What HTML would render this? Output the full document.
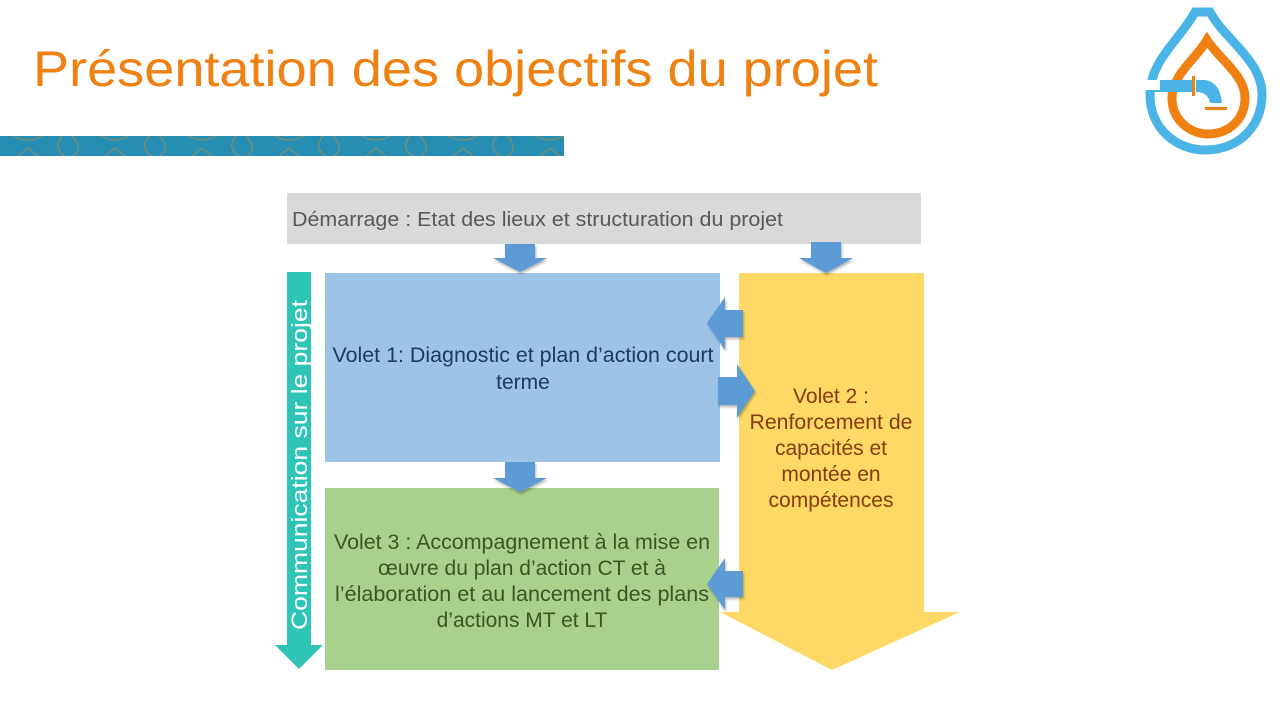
<!DOCTYPE html>
<html><head><meta charset="utf-8"><style>
html,body{margin:0;padding:0;background:#fff;}
svg{display:block;}
text{font-family:"Liberation Sans",sans-serif;}
</style></head><body>
<svg width="1280" height="720" viewBox="0 0 1280 720" xmlns="http://www.w3.org/2000/svg">
<defs>
<pattern id="pat" x="0" y="136" width="87" height="20" patternUnits="userSpaceOnUse">
<rect width="87" height="20" fill="#278EB3"/>
<path d="M14 0 Q28 8 42 0" fill="none" stroke="#9a8a5a" stroke-width="1"/>
<path d="M18 20 L28 12 L38 20" fill="none" stroke="#9a8a5a" stroke-width="1"/>
<path d="M65 20 Q52 12 62 0 M73 20 Q84 12 72 0" fill="none" stroke="#9a8a5a" stroke-width="1"/>
</pattern>
<filter id="sh" x="-20%" y="-20%" width="140%" height="140%"><feDropShadow dx="1" dy="2" stdDeviation="1.2" flood-opacity="0.3"/></filter>
</defs>
<text x="33" y="86" font-size="50" fill="#EE8112" textLength="845" lengthAdjust="spacingAndGlyphs">Présentation des objectifs du projet</text>
<rect x="0" y="136" width="564" height="20" fill="url(#pat)"/>
<g fill="none">
<path d="M1195 12 C1180 40 1150 60 1150 95 C1150 128 1176 150 1205 150 C1240 150 1262 125 1262 95 C1262 60 1225 40 1210 12 Z" stroke="#4BB4E6" stroke-width="9" fill="none"/>
<path d="M1207 40 C1195 60 1172 75 1172 98 C1172 120 1190 134 1208 134 C1228 134 1245 120 1245 98 C1245 75 1220 60 1207 40 Z" stroke="#EE8112" stroke-width="9"/>
<rect x="1148" y="80" width="45" height="12" fill="#4BB4E6"/>
<path d="M1196 80 L1205 80 Q1220 82 1222 103 L1210 103 Q1208 92 1196 92 Z" fill="#4BB4E6"/>
<rect x="1192" y="76" width="3" height="20" fill="#EE8112"/>
<rect x="1205" y="107" width="22" height="3" fill="#EE8112"/>
<rect x="1146" y="80" width="14" height="10" fill="#fff"/>
</g>
<rect x="287" y="193" width="634" height="51" fill="#D9D9D9"/>
<text x="292" y="226" font-size="20" fill="#595959" textLength="491" lengthAdjust="spacingAndGlyphs">Démarrage : Etat des lieux et structuration du projet</text>
<path d="M739 273 H924 V612 H960 L832 670 L720 612 H739 Z" fill="#FFD966"/>
<rect x="325" y="273" width="395" height="189" fill="#9DC3E6"/>
<rect x="325" y="488" width="394" height="182" fill="#A9D18E"/>
<path d="M287 272 H311 V645 H323 L299 669 L275 645 H287 Z" fill="#2EC4B6"/>
<text transform="translate(307,630) rotate(-90)" font-size="22" fill="#fff" textLength="330" lengthAdjust="spacingAndGlyphs">Communication sur le projet</text>
<g fill="#5B9BD5" filter="url(#sh)">
<path d="M505 244 H535 V258 H547 L520 272 L493 258 H505 Z"/>
<path d="M811 242 H841 V258 H853 L826 273 L799 258 H811 Z"/>
<path d="M505 462 H535 V478 H547 L520 492 L493 478 H505 Z"/>
<path d="M743 310 V337 H725 V350 L707 323 L725 297 V310 Z"/>
<path d="M718 377 H737 V364 L755 391 L737 418 V405 H718 Z"/>
<path d="M743 571 V597 H725 V610 L707 584 L725 558 V571 Z"/>
</g>
<g font-size="21" text-anchor="middle">
<text x="523" y="362" fill="#1F3864" textLength="381" lengthAdjust="spacingAndGlyphs">Volet 1: Diagnostic et plan d’action court</text>
<text x="523" y="389" fill="#1F3864">terme</text>
<text x="831" y="403" fill="#843C0C">Volet 2 :</text>
<text x="831" y="429" fill="#843C0C" textLength="163" lengthAdjust="spacingAndGlyphs">Renforcement de</text>
<text x="831" y="455" fill="#843C0C">capacités et</text>
<text x="831" y="481" fill="#843C0C">montée en</text>
<text x="831" y="507" fill="#843C0C">compétences</text>
<text x="522" y="549" fill="#385723" textLength="376" lengthAdjust="spacingAndGlyphs">Volet 3 : Accompagnement à la mise en</text>
<text x="522" y="575" fill="#385723">œuvre du plan d’action CT et à</text>
<text x="522" y="601" fill="#385723" textLength="374" lengthAdjust="spacingAndGlyphs">l’élaboration et au lancement des plans</text>
<text x="522" y="627" fill="#385723">d’actions MT et LT</text>
</g>
</svg>
</body></html>
